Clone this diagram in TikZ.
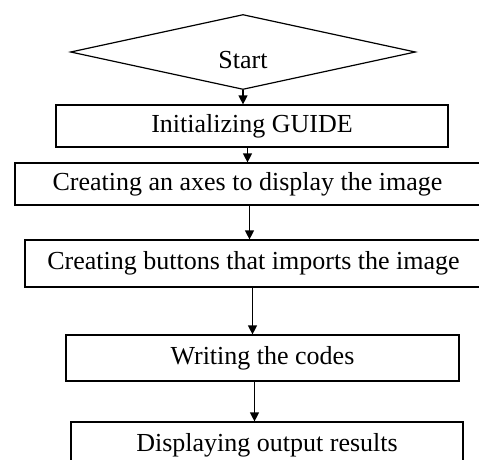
\documentclass[tikz,border=0pt]{standalone}
\usepackage{fontspec}
\setmainfont{Liberation Serif}
\usetikzlibrary{arrows.meta, shapes.geometric}

\begin{document}
\begin{tikzpicture}[
            x = 1pt, y = -1pt, % pixel units, y going down
            > = {Triangle[length=9pt,width=9pt]}, % arrow head style
            line width = 1.2pt, % line style
            font = \fontsize{26}{31}\selectfont
        ]

        \tikzstyle{block}=[
            draw = black,
            rectangle,
            inner sep = 0pt,
            minimum height = 42pt
        ]
        \tikzstyle{decision}=[
            draw = black,
            diamond,
            inner sep = 0pt,
            minimum width = 345pt,
            minimum height = 75pt
        ]

        \path[use as bounding box, clip] (0,0) rectangle (479,459);

        \node[decision, label={[name=startlbl, yshift=-8pt]center:Start}] (start) at (243,52) {};
        \node[block, minimum width=392pt] (guide) at (252,126) {Initializing GUIDE};
        \node[block, minimum width=465pt] (axes) at (247.5,184) {Creating an axes to display the image};
        \node[block, minimum width=457pt, minimum height=47pt] (buttons) at (253.5,263.5) {Creating buttons that imports the image};
        \node[block, minimum width=393pt, minimum height=46pt] (codes) at (262.5,358) {Writing the codes};
        \node[block, minimum width=392pt, minimum height=46pt] (results) at (267,445) {Displaying output results};

	\draw[->] (start.south) -- (start.south |- guide.north);
	\draw[->] (axes.north |- guide.south) -- (axes.north);
	\draw[->] ([xshift=2pt]axes.south) -- ([xshift=2pt]axes.south |- buttons.north);
	\draw[->] ([xshift=-1pt]buttons.south) -- ([xshift=-1pt]buttons.south |- codes.north);
	\draw[->] ([xshift=-8pt]codes.south) -- ([xshift=-8pt]codes.south |- results.north);
    \end{tikzpicture}
\end{document}
